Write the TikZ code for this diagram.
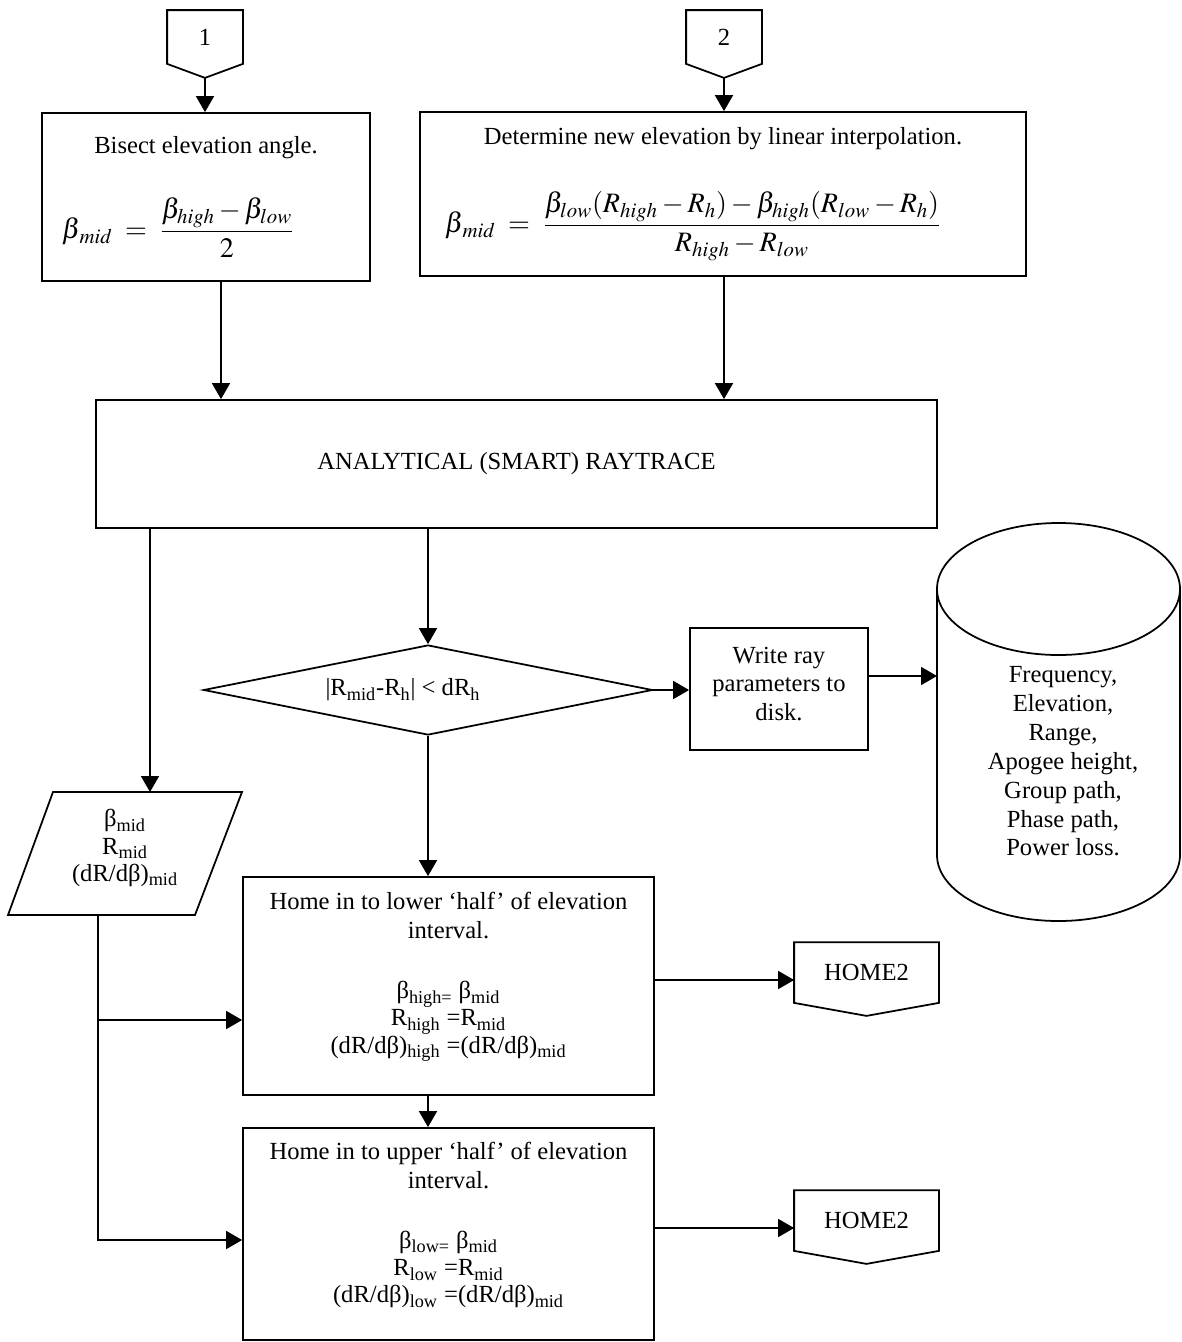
\documentclass[tikz,border=0pt]{standalone}
\usepackage{mathptmx}
\usepackage{fontspec}
\setmainfont{Liberation Serif}
\usetikzlibrary{shapes.geometric,arrows.meta}
\def\F{\fontsize{16}{20}\selectfont}

\begin{document}
\begin{tikzpicture}[x=0.2mm,y=-0.2mm,line width=1pt,font=\fontsize{14}{16.4}\selectfont,
  b/.style={rectangle,draw,align=center,inner sep=0pt},
  t/.style={align=center,inner sep=0pt},
  a/.style={-{Triangle[length=3.2mm,width=3.6mm]}}]
  \useasboundingbox (0,0) rectangle (1182,1342);

  \node[t,minimum width=14.8mm,minimum height=10.4mm] (c1) at (205,37) {1};
  \node[t,minimum width=14.8mm,minimum height=10.4mm] (c2) at (724,37) {2};
  \node[b,minimum width=65.6mm,minimum height=33.6mm] (b1) at (206,197)
    {Bisect elevation angle.\\[7.5mm]\F$\displaystyle\beta_{\,mid}\;=\;\frac{\beta_{high}-\beta_{low}}{2}$\hspace*{11.2mm}};
  \node[b,minimum width=121.2mm,minimum height=32.8mm] (b2) at (723,194)
    {Determine new elevation by linear interpolation.\\[8mm]\F$\displaystyle\beta_{\,mid}\;=\;\frac{\beta_{low}(R_{high}-R_h)-\beta_{high}(R_{low}-R_h)}{R_{high}-R_{low}}$\hspace*{12mm}};
  \node[b,minimum width=168.2mm,minimum height=25.6mm] (ray) at (516.5,464) {ANALYTICAL (SMART) RAYTRACE};
  \node[diamond,draw,aspect=5,inner sep=0pt,minimum width=89.8mm,minimum height=18mm] (d) at (428,690)
    {|R\textsubscript{mid}-R\textsubscript{h}| < dR\textsubscript{h}\hspace*{10mm}};
  \node[b,minimum width=35.6mm,minimum height=24.4mm] (w) at (779,689) {Write ray\\parameters to\\disk.\\[-10.4pt]};
  \node[t] (db) at (1063,761.5) {Frequency,\\Elevation,\\Range,\\Apogee height,\\Group path,\\Phase path,\\Power loss.};
  \coordinate (dbin) at (937,676);
  \node[t] (o) at (125,848) {β\textsubscript{mid}\\[-1pt]R\textsubscript{mid}\\[-1pt](dR/dβ)\textsubscript{mid}};
  \coordinate (pt) at (150,792);
  \coordinate (pb) at (98,915);
  \node[b,minimum width=82.2mm,minimum height=43.6mm] (lo) at (448.5,986)
    {Home in to lower ‘half’ of elevation\\interval.\\[18pt]β\textsubscript{high=} β\textsubscript{mid}\\[-1pt]R\textsubscript{high} =R\textsubscript{mid}\\[-1pt](dR/dβ)\textsubscript{high} =(dR/dβ)\textsubscript{mid}\\[-1.2pt]};
  \node[b,minimum width=82.2mm,minimum height=42.4mm] (up) at (448.5,1234)
    {Home in to upper ‘half’ of elevation\\interval.\\[18pt]β\textsubscript{low=} β\textsubscript{mid}\\[-1pt]R\textsubscript{low} =R\textsubscript{mid}\\[-1pt](dR/dβ)\textsubscript{low} =(dR/dβ)\textsubscript{mid}\\[-3.4pt]};
  \node[t,minimum width=28.6mm,minimum height=11.8mm] (h1) at (866.5,972.5) {HOME2};
  \node[t,minimum width=28.6mm,minimum height=11.8mm] (h2) at (866.5,1220.5) {HOME2};

  \foreach \n/\p in {c1/2.8mm,c2/2.8mm,h1/2.6mm,h2/2.6mm}
    \draw (\n.north west) -- (\n.north east) -- (\n.south east) -- ([yshift=-\p]\n.south) -- (\n.south west) -- cycle;
  \draw (53,792) -- (242,792) -- (195,915) -- (8,915) -- cycle;
  \draw (937,589) -- (937,855) arc[start angle=180,end angle=360,x radius=24.3mm,y radius=13.2mm] -- (1180,589);
  \draw (1058.5,589) ellipse[x radius=24.3mm,y radius=13.2mm];

  \draw[a] ([yshift=-2.8mm]c1.south) -- (c1.south |- b1.north);
  \draw[a] ([yshift=-2.8mm]c2.south) -- (c2.south |- b2.north);
  \draw[a] ([xshift=3mm]b1.south) -- ([xshift=3mm]b1.south |- ray.north);
  \draw[a] (c2.south |- b2.south) -- (c2.south |- ray.north);
  \draw[a] (ray.south -| pt) -- (pt);
  \draw[a] (ray.south -| d.north) -- (d.north);
  \draw[a] (d.east) -- (d.east -| w.west);
  \draw[a] (w.east |- dbin) -- (dbin);
  \draw[a] (d.south) -- (d.south |- lo.north);
  \draw[a] (lo.south -| d.south) -- (up.north -| d.south);
  \draw[a] (pb) |- ([yshift=-6.8mm]lo.west);
  \draw[a] (pb) |- ([yshift=-1.2mm]up.west);
  \draw[a] ([yshift=-1.5mm]h1.west -| lo.east) -- ([yshift=-1.5mm]h1.west);
  \draw[a] ([yshift=-1.5mm]h2.west -| up.east) -- ([yshift=-1.5mm]h2.west);
\end{tikzpicture}
\end{document}
